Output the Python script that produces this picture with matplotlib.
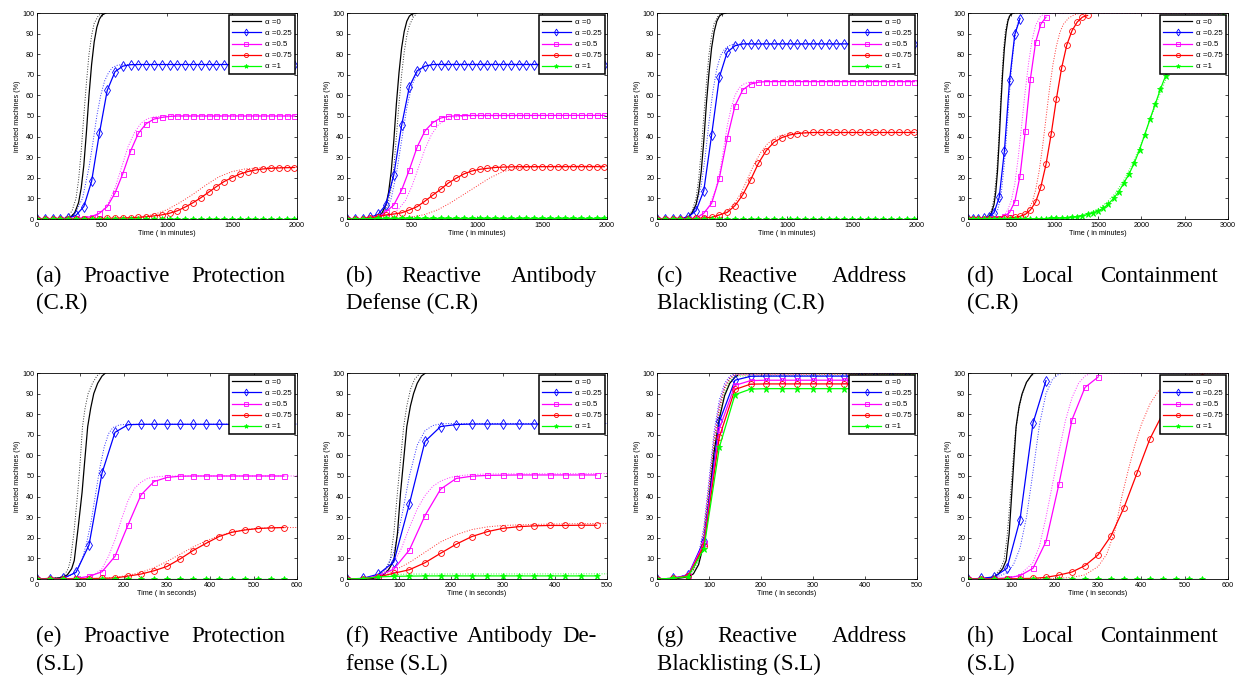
import numpy as np
import matplotlib
matplotlib.use('Agg')
import matplotlib.pyplot as plt

plt.rcParams['font.family'] = ['Liberation Sans', 'DejaVu Sans']

labels = ['\u03b1 =0', '\u03b1 =0.25', '\u03b1 =0.5', '\u03b1 =0.75', '\u03b1 =1']
colors = ['#000000', '#0000ff', '#ff00ff', '#ff0000', '#00ff00']
markers = ['', 'd', 's', 'o', '*']
msizes = [0, 5, 3.6, 4.2, 4.5]

# ---------- (a) proactive protection, C.R ----------
a_t = np.arange(0, 1981, 60)
a_blue = [0, 0, 0, 0, 0.3, 1.8, 6.0, 18.3, 41.6, 62.4, 71.5, 74.2, 74.9,
          75, 75, 75, 75, 75, 75, 75, 75, 75, 75, 75,
          75, 75, 75, 75, 75, 75, 75, 75, 75, 75]
a_mag = [0, 0, 0, 0, 0.1, 0.3, 0.6, 1.2, 2.8, 6.0, 12.6, 22.0, 33.0, 41.6, 46.3, 48.5, 49.3, 49.8,
         50, 50, 50, 50, 50, 50, 50, 50, 50, 50, 50, 50, 50, 50, 50, 50]
a_red = [0, 0, 0, 0, 0, 0, 0.1, 0.1, 0.2, 0.3, 0.4, 0.5,
         0.6, 0.8, 1.1, 1.5, 2.0, 2.8, 4.0, 5.8, 7.9, 10.3, 13.0, 15.7,
         18.2, 20.1, 21.8, 23.0, 23.8, 24.3, 24.6, 24.8, 24.9, 25.0]
a_green = [0, 0, 0, 0, 0, 0, 0, 0, 0, 0, 0, 0, 0, 0, 0, 0, 0,
           0, 0, 0, 0, 0, 0, 0, 0, 0, 0, 0, 0, 0, 0, 0, 0, 0]
a_k_t = [0, 220, 260, 290, 320, 340, 360, 380, 400, 420, 440, 460, 480, 500, 530]
a_k = [0, 0.3, 1, 3, 8, 15, 26, 42, 60, 75, 86, 93, 97, 99, 100]
a_dk_t = [0, 200, 240, 270, 300, 320, 340, 360, 380, 400, 420, 440, 470, 500]
a_dk = [0, 0.3, 1.5, 4, 10, 19, 33, 50, 66, 80, 89, 95, 98.5, 100]
a_db_t = [0, 200, 250, 300, 350, 400, 430, 460, 490, 520, 550, 580, 620, 680, 2000]
a_db = [0, 0.2, 1, 3.5, 10, 25, 37, 50, 60, 67, 71, 73.5, 74.7, 75, 75]
a_dm_t = [0, 400, 450, 500, 550, 600, 650, 700, 750, 800, 850, 900, 950, 1000, 2000]
a_dm = [0, 0.5, 1.5, 3.5, 8, 15, 25, 35, 42, 46.5, 48.7, 49.5, 49.9, 50, 50]
a_dr_t = [0, 700, 800, 900, 1000, 1100, 1200, 1300, 1400, 1500, 1600, 1700, 1800, 2000]
a_dr = [0, 0.3, 1, 2.2, 4.5, 8, 12, 16.5, 20.5, 23, 24.3, 24.8, 25, 25]
a_dg_t = [0, 2000]
a_dg = [0, 0]

# ---------- (b) reactive antibody defense, C.R ----------
b_t = np.arange(0, 1981, 60)
b_blue = [0, 0, 0.2, 0.8, 2.3, 7.0, 21.4, 45.4, 64.3, 72.0, 74.2, 75.0,
          75, 75, 75, 75, 75, 75, 75, 75, 75, 75, 75,
          75, 75, 75, 75, 75, 75, 75, 75, 75, 75, 75]
b_mag = [0, 0, 0.1, 0.4, 1.0, 3.5, 6.8, 14.0, 24.0, 35.0, 42.8, 46.8, 49.0, 49.8, 50.1, 50.2,
         50.3, 50.3, 50.3, 50.3, 50.3, 50.3, 50.3, 50.3, 50.3,
         50.3, 50.3, 50.3, 50.3, 50.3, 50.3, 50.3, 50.3, 50.3]
b_red = [0, 0, 0.2, 0.6, 1.2, 2.0, 2.4, 3.0, 4.4, 6.0, 8.7, 11.6, 14.4, 17.5, 19.8, 21.9,
         23.3, 24.1, 24.6, 25.0, 25.2, 25.3,
         25.4, 25.4, 25.4, 25.4, 25.4, 25.4, 25.4, 25.4, 25.4, 25.4, 25.4, 25.4]
b_green = [0, 0, 0.1, 0.2,
           0.3, 0.3, 0.3, 0.3, 0.3, 0.3, 0.3, 0.3, 0.3, 0.3,
           0.3, 0.3, 0.3, 0.3, 0.3, 0.3, 0.3, 0.3, 0.3, 0.3,
           0.3, 0.3, 0.3, 0.3, 0.3, 0.3, 0.3, 0.3, 0.3, 0.3]
b_k_t = [0, 200, 240, 270, 300, 320, 340, 360, 380, 400, 420, 440, 460, 480, 500, 530]
b_k = [0, 0.3, 1, 3, 7, 13, 23, 38, 56, 71, 83, 91, 96, 98.5, 99.5, 100]
b_dk_t = [0, 220, 260, 290, 320, 340, 360, 380, 400, 420, 440, 460, 480, 510, 540]
b_dk = [0, 0.3, 1.5, 4, 9, 15, 25, 40, 56, 70, 81, 89, 94, 98, 100]
b_db_t = [0, 220, 260, 300, 340, 380, 420, 460, 500, 540, 580, 620, 660, 720, 2000]
b_db = [0, 0.5, 1.5, 4, 10, 22, 38, 54, 65, 71, 73.5, 74.5, 75, 75.2, 75.2]
b_dm_t = [0, 250, 300, 350, 400, 450, 500, 550, 600, 650, 700, 750, 800, 900, 2000]
b_dm = [0, 0.5, 1.2, 2.5, 5, 9, 16, 25, 34, 41, 45.5, 48, 49.3, 50, 50.3]
b_dr_t = [0, 400, 500, 600, 700, 800, 900, 1000, 1100, 1200, 1300, 1400, 1600, 2000]
b_dr = [0, 0.3, 1, 2.2, 4.5, 8, 12, 16, 20, 23, 24.5, 25.2, 25.6, 25.7]
b_dg_t = [0, 2000]
b_dg = [0.5, 0.5]

# ---------- (c) reactive address blacklisting, C.R ----------
c_t = np.arange(0, 1981, 60)
c_blue = [0, 0, 0, 0.2, 1.0, 4.0, 13.8, 40.7, 68.9, 81.0, 84.1, 85.0,
          85, 85, 85, 85, 85, 85, 85, 85, 85, 85, 85,
          85, 85, 85, 85, 85, 85, 85, 85, 85, 85, 85]
c_mag = [0, 0, 0, 0, 0.2, 0.5, 2.8, 7.6, 20.0, 39.2, 55.0, 62.7, 65.5, 66.4,
         66.7, 66.7, 66.7, 66.7, 66.7, 66.7, 66.7, 66.7, 66.7, 66.7,
         66.7, 66.7, 66.7, 66.7, 66.7, 66.7, 66.7, 66.7, 66.7, 66.7]
c_red = [0, 0, 0, 0, 0.1, 0.3, 0.5, 0.8, 2.0, 3.2, 6.5, 11.8, 19.0, 27.0, 33.2, 37.3,
         39.5, 40.8, 41.5, 41.8,
         42, 42, 42, 42, 42, 42, 42, 42, 42, 42, 42, 42, 42, 42]
c_green = [0, 0, 0, 0, 0, 0, 0, 0, 0, 0, 0, 0, 0, 0, 0, 0, 0,
           0, 0, 0, 0, 0, 0, 0, 0, 0, 0, 0, 0, 0, 0, 0, 0, 0]
c_k_t = [0, 200, 240, 270, 300, 320, 340, 360, 380, 400, 420, 440, 460, 480, 500, 530]
c_k = [0, 0.3, 1, 3, 7, 13, 23, 38, 56, 71, 83, 91, 96, 98.5, 99.5, 100]
c_dk_t = [0, 200, 240, 270, 300, 320, 340, 360, 380, 400, 420, 440, 470, 500]
c_dk = [0, 0.3, 1.5, 4, 10, 19, 33, 50, 66, 80, 89, 95, 98.5, 100]
c_db_t = [0, 220, 260, 300, 340, 370, 400, 430, 460, 490, 520, 550, 580, 620, 700, 2000]
c_db = [0, 0.5, 2, 6, 16, 30, 47, 62, 73, 79.5, 82.5, 84, 84.7, 85, 85, 85]
c_dm_t = [0, 300, 350, 400, 450, 480, 510, 540, 570, 600, 630, 660, 700, 760, 2000]
c_dm = [0, 0.5, 2, 6, 14, 22, 33, 45, 54, 60, 63.5, 65.3, 66.3, 66.7, 66.7]
c_dr_t = [0, 400, 450, 500, 550, 600, 650, 700, 750, 800, 850, 900, 950, 1000, 1100, 2000]
c_dr = [0, 0.5, 1.2, 2.5, 4.5, 8, 13, 20, 27, 32.5, 36.5, 39, 40.5, 41.3, 41.9, 42]
c_dg_t = [0, 2000]
c_dg = [0, 0]

# ---------- (d) local containment, C.R ----------
d_t = np.arange(0, 2941, 60)
d_blue = [0, 0, 0, 0.3, 1.0, 3.0, 10.5, 33.0, 67.4, 89.6, 97.3]
d_mag = [0, 0, 0, 0, 0.1, 0.3, 0.7, 1.4, 3.2, 8.4, 20.9, 42.5, 68.0, 85.7, 94.6, 98.0]
d_red = [0, 0, 0, 0, 0, 0.1, 0.2, 0.3, 0.5, 0.8, 1.3, 2.2, 4.4, 8.2, 15.5, 26.5,
         41.3, 58.3, 73.3, 84.5, 91.4, 95.6, 98.0, 98.8]
d_green = [0, 0, 0, 0, 0, 0, 0, 0, 0, 0, 0.1, 0.1, 0.1, 0.2, 0.2, 0.2, 0.3,
           0.3, 0.4, 0.5, 0.8, 1.1, 1.6, 2.2, 3.0, 3.9, 5.2, 7.3, 10.0, 13.3, 17.6,
           22.0, 27.3, 33.7, 41.0, 48.5, 55.7, 63.0, 69.5, 75.5, 80.5, 85.0, 88.5,
           91.3, 93.5, 95.2, 96.5, 97.4, 98.0, 98.5]
d_k_t = [0, 200, 240, 270, 300, 320, 340, 360, 380, 400, 420, 440, 460, 480, 500, 530]
d_k = [0, 0.3, 1, 3, 7, 13, 23, 38, 56, 71, 83, 91, 96, 98.5, 99.5, 100]
d_dk_t = [0, 200, 240, 270, 300, 330, 350, 370, 390, 410, 430, 460, 500, 3000]
d_dk = [0, 0.5, 1.5, 4, 10, 22, 35, 52, 68, 82, 91, 97, 100, 100]
d_db_t = [0, 260, 300, 340, 380, 420, 450, 480, 510, 540, 570, 600, 640, 3000]
d_db = [0, 0.5, 1.5, 4, 11, 27, 44, 62, 77, 88, 94.5, 98, 100, 100]
d_dm_t = [0, 360, 420, 460, 500, 540, 580, 620, 660, 700, 740, 780, 830, 880, 3000]
d_dm = [0, 0.5, 2, 4.5, 9, 17, 30, 46, 62, 76, 87, 94, 98, 99.7, 100]
d_dr_t = [0, 540, 600, 660, 700, 740, 780, 820, 860, 900, 940, 980, 1020, 1060, 1100,
          1160, 1220, 1300, 3000]
d_dr = [0, 0.5, 1.2, 2.8, 5, 8, 14, 23, 35, 49, 63, 75, 84, 90.5, 94.5, 97.5, 99, 100, 100]
d_dg_t = [0, 1000, 1200, 1300, 1400, 1500, 1600, 1700, 1800, 1900, 2000, 2100, 2200,
          2300, 2400, 2500, 2600, 2700, 2800, 2900, 3000]
d_dg = [0, 0.3, 1, 1.8, 3, 5, 8, 12.5, 19, 27, 37, 48, 59, 69.5, 78, 85, 90.5, 94, 96.5,
        98, 99]

# ---------- (e) proactive protection, S.L ----------
e_t = np.arange(0, 571, 30)
e_blue = [0, 0, 0.3, 3.2, 16.5, 51.4, 71.2, 74.9, 75.1,
          75.1, 75.1, 75.1, 75.1, 75.1, 75.1, 75.1, 75.1, 75.1, 75.1, 75.1]
e_mag = [0, 0, 0, 0.3, 1.3, 3.5, 11.0, 26.2, 40.8, 47.3, 49.3, 49.9,
         50, 50, 50, 50, 50, 50, 50, 50]
e_red = [0, 0, 0, 0.1, 0.2, 0.3, 0.5, 1.4, 2.4, 4.0, 6.1, 9.7, 13.8, 17.3, 20.6, 22.7,
         23.8, 24.5, 24.8, 25.0]
e_green = [0, 0, 0, 0, 0, 0, 0, 0, 0, 0, 0, 0, 0, 0, 0, 0, 0, 0, 0, 0]
e_k_t = [0, 50, 60, 70, 80, 86, 95, 104, 110, 117, 124, 131, 140, 150, 158]
e_k = [0, 0.5, 1, 2, 5, 9, 25, 42, 57, 74, 83, 90, 95, 98.5, 100]
e_dk_t = [0, 45, 55, 65, 72, 77, 85, 94, 100, 105, 111, 118, 128, 138, 146]
e_dk = [0, 0.5, 1, 2.5, 5, 9, 22, 42, 58, 74, 83, 90, 95, 98.5, 100]
e_db_t = [0, 60, 80, 95, 105, 115, 125, 135, 145, 155, 165, 175, 190, 210, 600]
e_db = [0, 0.3, 2, 5.5, 10, 18, 28, 41, 54, 64, 70.5, 73.5, 74.8, 75.1, 75.2]
e_dm_t = [0, 100, 120, 135, 150, 165, 180, 195, 210, 225, 240, 255, 270, 300, 600]
e_dm = [0, 0.3, 1, 2.5, 5, 11, 19, 29, 38, 44, 47, 48.8, 49.5, 50, 50]
e_dr_t = [0, 150, 180, 210, 240, 270, 300, 330, 360, 390, 420, 450, 480, 510, 540, 600]
e_dr = [0, 0.3, 0.8, 1.8, 3.2, 5.5, 8.5, 12, 15.5, 18.5, 21, 22.8, 24, 24.6, 24.9, 25]
e_dg_t = [0, 600]
e_dg = [0, 0]

# ---------- (f) reactive antibody defense, S.L ----------
f_t = np.arange(0, 481, 30)
f_blue = [0, 0.3, 2.3, 8.3, 36.5, 66.8, 74.0, 75.0, 75.2,
          75.2, 75.2, 75.2, 75.2, 75.2, 75.2, 75.2, 75.2]
f_mag = [0, 0.2, 1.5, 4.8, 14.1, 30.8, 43.6, 48.8, 49.9, 50.3, 50.4,
         50.5, 50.5, 50.5, 50.5, 50.5, 50.5]
f_red = [0, 0.2, 1.0, 2.8, 4.5, 7.9, 12.5, 16.9, 20.6, 23.0, 24.6, 25.4, 25.8, 26.0,
         26.0, 26.1, 26.1]
f_green = [0, 0.2, 1.0, 1.3, 1.4, 1.5, 1.5, 1.5, 1.5, 1.5, 1.5, 1.5, 1.5, 1.5, 1.5, 1.5, 1.5]
f_k_t = [0, 50, 60, 70, 80, 90, 97, 103, 109, 115, 122, 128, 135, 143, 151]
f_k = [0, 0.3, 1, 2, 4.5, 9, 22, 42, 58, 74, 84, 90, 95, 98.5, 100]
f_dk_t = [0, 45, 55, 65, 75, 83, 90, 97, 103, 109, 115, 122, 130, 141]
f_dk = [0, 0.3, 1, 2.5, 5, 9, 22, 42, 58, 74, 84, 92, 97, 100]
f_db_t = [0, 50, 60, 75, 90, 105, 120, 135, 150, 165, 180, 200, 500]
f_db = [0, 0.5, 2, 5, 13, 30, 50, 65, 72, 74.5, 75.3, 75.5, 75.5]
f_dm_t = [0, 50, 60, 75, 90, 105, 120, 135, 150, 165, 180, 195, 210, 240, 270, 500]
f_dm = [0, 0.5, 1.5, 4, 8, 15, 25, 34, 40.5, 45, 47.5, 49, 50, 50.7, 51, 51.2]
f_dr_t = [0, 50, 60, 90, 120, 150, 180, 210, 240, 270, 300, 360, 420, 500]
f_dr = [0, 0.5, 1.2, 4, 8, 13, 18, 21.5, 24, 25.3, 26, 26.5, 26.8, 27]
f_dg_t = [0, 50, 60, 90, 120, 500]
f_dg = [0, 0.5, 1.5, 2.2, 2.4, 2.5]

# ---------- (g) reactive address blacklisting, S.L ----------
g_t = np.arange(0, 481, 30)
g_blue = [0, 0.3, 2.0, 18.5, 76.5, 96.5, 98.4,
          98.5, 98.5, 98.5, 98.5, 98.5, 98.5, 98.5, 98.5, 98.5, 98.5]
g_mag = [0, 0.3, 1.8, 17.5, 73.0, 94.0, 96.3,
         96.5, 96.5, 96.5, 96.5, 96.5, 96.5, 96.5, 96.5, 96.5, 96.5]
g_red = [0, 0.3, 1.5, 16.0, 69.0, 92.0, 94.6,
         94.7, 94.7, 94.7, 94.7, 94.7, 94.7, 94.7, 94.7, 94.7, 94.7]
g_green = [0, 0.3, 1.2, 14.5, 64.0, 89.5, 92.2,
           92.4, 92.4, 92.4, 92.4, 92.4, 92.4, 92.4, 92.4, 92.4, 92.4]
g_k_t = [0, 40, 60, 70, 80, 90, 100, 110, 120, 130, 140, 150, 155]
g_k = [0, 0.3, 1, 2.5, 7, 17, 38, 62, 78, 89, 95, 98, 98.8]
g_dot_t = [0, 40, 60, 70, 80, 90, 100, 110, 120, 130, 140, 150, 500]
g_dk = [0, 0.5, 2, 4.5, 10, 22, 44, 68, 84, 93, 97.5, 99.5, 100]
g_db = [0, 0.5, 2.5, 5.5, 12, 25, 48, 72, 87, 95, 98.5, 99.7, 100]
g_dm = [0, 0.5, 2.3, 5, 11, 24, 46, 70, 85, 94, 98, 99.4, 99.8]
g_dr = [0, 0.5, 2, 4.5, 10, 22, 43, 66, 82, 92, 97, 99, 99.5]
g_dg = [0, 0.5, 1.8, 4, 9, 20, 40, 62, 79, 90, 96, 98.5, 99.3]

# ---------- (h) local containment, S.L ----------
h_t = np.arange(0, 541, 30)
h_blue = [0, 0.3, 1.0, 5.2, 28.8, 75.7, 96.3]
h_mag = [0, 0, 0.2, 0.5, 1.6, 5.2, 18.2, 46.2, 77.3, 93.0, 98.0]
h_red = [0, 0, 0, 0.1, 0.2, 0.3, 0.8, 1.9, 3.4, 6.5, 11.7, 20.9, 34.7, 51.4, 68.1,
         80.5, 89.5, 95.0, 98.0]
h_green = [0, 0, 0, 0, 0, 0, 0, 0, 0, 0, 0, 0, 0, 0, 0, 0, 0, 0, 0]
h_k_t = [0, 50, 60, 70, 80, 88, 95, 101, 106, 111, 118, 125, 135, 145, 151]
h_k = [0, 0.3, 1, 2.5, 5, 9, 22, 41.6, 58, 74, 84, 90, 95.5, 98.5, 100]
h_dk_t = [0, 45, 55, 65, 75, 83, 90, 97, 103, 109, 116, 124, 134, 145, 156]
h_dk = [0, 0.3, 1, 2.5, 5, 9, 20, 38, 55, 70, 81, 89, 95, 98.5, 100]
h_db_t = [0, 60, 90, 105, 120, 135, 150, 165, 180, 195, 210, 225, 600]
h_db = [0, 0.5, 3, 7, 15, 30, 52, 75, 90, 97, 99.5, 100, 100]
h_dm_t = [0, 90, 120, 150, 165, 180, 195, 210, 225, 240, 255, 270, 285, 600]
h_dm = [0, 0.3, 2, 8, 16, 30, 46, 62, 77, 88, 95, 98.5, 100, 100]
h_dr_t = [0, 210, 240, 270, 300, 320, 340, 355, 370, 385, 400, 420, 440, 470, 500, 530, 600]
h_dr = [0, 0.3, 0.8, 2, 6, 12, 24, 40, 53, 65, 75, 85, 91.5, 96.5, 98.8, 99.7, 100]
h_dg_t = [0, 600]
h_dg = [0, 0]

W, H = 1238, 675
fig = plt.figure(figsize=(W / 100, H / 100), dpi=100)
fig.patch.set_facecolor('white')


def draw(left, top, t, sims, k_t, k, dots, xmax, xstep, xlabel):
    # left/top in pixels of the axes box
    ax = fig.add_axes([left / W, 1 - (top + 206) / H, 260 / W, 206 / H])
    for (dt, dy), c in zip(dots, colors):
        ax.plot(dt, dy, ':', color=c, lw=0.7, alpha=0.8)
    handles = [ax.plot(k_t, k, '-', color=colors[0], lw=0.9)[0]]
    for y, c, m, s in zip(sims, colors[1:], markers[1:], msizes[1:]):
        n = len(y)
        face = c if m == '*' else 'none'
        h, = ax.plot(t[:n], y, '-', color=c, marker=m, ms=s, mfc=face, mec=c,
                     mew=0.6, lw=0.9)
        handles.append(h)
    ax.set_xlim(0, xmax)
    ax.set_ylim(0, 100)
    ax.set_xticks(np.arange(0, xmax + 1, xstep))
    ax.set_yticks(np.arange(0, 101, 10))
    ax.tick_params(direction='in', length=2.5, width=0.5, labelsize=5.2, pad=2,
                   top=True, right=True)
    for sp in ax.spines.values():
        sp.set_linewidth(0.6)
    ax.set_ylabel('infected machines (%)', fontsize=5.2, labelpad=1)
    ax.set_xlabel(xlabel, fontsize=5.2, labelpad=1)
    leg = ax.legend(handles, labels, loc='upper right', fontsize=5.7, fancybox=False,
                    edgecolor='k', framealpha=1, borderpad=0.45, labelspacing=0.45,
                    handlelength=3.6, handletextpad=0.5, borderaxespad=0.25,
                    markerscale=0.7)
    leg.get_frame().set_linewidth(1.1)
    return ax


draw(37, 13, a_t, [a_blue, a_mag, a_red, a_green], a_k_t, a_k,
     [(a_dk_t, a_dk), (a_db_t, a_db), (a_dm_t, a_dm), (a_dr_t, a_dr), (a_dg_t, a_dg)],
     2000, 500, 'Time ( in minutes)')
draw(347, 13, b_t, [b_blue, b_mag, b_red, b_green], b_k_t, b_k,
     [(b_dk_t, b_dk), (b_db_t, b_db), (b_dm_t, b_dm), (b_dr_t, b_dr), (b_dg_t, b_dg)],
     2000, 500, 'Time ( in minutes)')
draw(657, 13, c_t, [c_blue, c_mag, c_red, c_green], c_k_t, c_k,
     [(c_dk_t, c_dk), (c_db_t, c_db), (c_dm_t, c_dm), (c_dr_t, c_dr), (c_dg_t, c_dg)],
     2000, 500, 'Time ( in minutes)')
draw(968, 13, d_t, [d_blue, d_mag, d_red, d_green], d_k_t, d_k,
     [(d_dk_t, d_dk), (d_db_t, d_db), (d_dm_t, d_dm), (d_dr_t, d_dr), (d_dg_t, d_dg)],
     3000, 500, 'Time ( in minutes)')
draw(37, 373, e_t, [e_blue, e_mag, e_red, e_green], e_k_t, e_k,
     [(e_dk_t, e_dk), (e_db_t, e_db), (e_dm_t, e_dm), (e_dr_t, e_dr), (e_dg_t, e_dg)],
     600, 100, 'Time ( in seconds)')
draw(347, 373, f_t, [f_blue, f_mag, f_red, f_green], f_k_t, f_k,
     [(f_dk_t, f_dk), (f_db_t, f_db), (f_dm_t, f_dm), (f_dr_t, f_dr), (f_dg_t, f_dg)],
     500, 100, 'Time ( in seconds)')
draw(657, 373, g_t, [g_blue, g_mag, g_red, g_green], g_k_t, g_k,
     [(g_dot_t, g_dk), (g_dot_t, g_db), (g_dot_t, g_dm), (g_dot_t, g_dr), (g_dot_t, g_dg)],
     500, 100, 'Time ( in seconds)')
draw(968, 373, h_t, [h_blue, h_mag, h_red, h_green], h_k_t, h_k,
     [(h_dk_t, h_dk), (h_db_t, h_db), (h_dm_t, h_dm), (h_dr_t, h_dr), (h_dg_t, h_dg)],
     600, 100, 'Time ( in seconds)')

# ---------- captions (justified first line, like the paper) ----------
renderer = fig.canvas.get_renderer()
cap_size = 16.5


def caption(words, second, x0, x1, y1, y2):
    # y1, y2 are baselines in pixels from the top
    texts = [fig.text(0, 1 - y1 / H, w, fontsize=cap_size, family='Liberation Serif',
                      va='baseline') for w in words]
    widths = [t.get_window_extent(renderer).width for t in texts]
    gap = (x1 - x0 - sum(widths)) / (len(words) - 1)
    x = x0
    for t, w in zip(texts, widths):
        t.set_x(x / W)
        x += w + gap
    fig.text(x0 / W, 1 - y2 / H, second, fontsize=cap_size, family='Liberation Serif',
             va='baseline')


caption(['(a)', 'Proactive', 'Protection'], '(C.R)', 36, 285, 282, 309)
caption(['(b)', 'Reactive', 'Antibody'], 'Defense (C.R)', 346, 597, 282, 309)
caption(['(c)', 'Reactive', 'Address'], 'Blacklisting (C.R)', 657, 907, 282, 309)
caption(['(d)', 'Local', 'Containment'], '(C.R)', 967, 1218, 282, 309)
caption(['(e)', 'Proactive', 'Protection'], '(S.L)', 36, 285, 642, 670)
caption(['(f)', 'Reactive', 'Antibody', 'De-'], 'fense (S.L)', 346, 597, 642, 670)
caption(['(g)', 'Reactive', 'Address'], 'Blacklisting (S.L)', 657, 907, 642, 670)
caption(['(h)', 'Local', 'Containment'], '(S.L)', 967, 1218, 642, 670)

fig.savefig('out.png', dpi=100)
